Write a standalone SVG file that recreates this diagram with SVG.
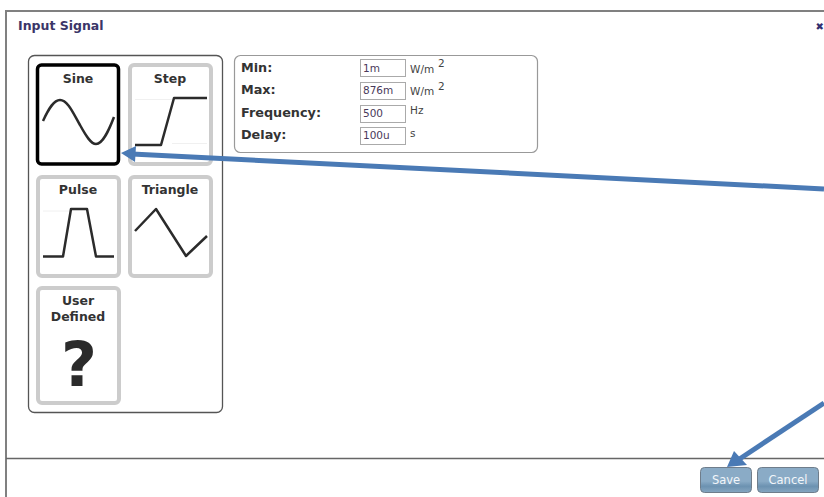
<svg xmlns="http://www.w3.org/2000/svg" width="824" height="497" viewBox="0 0 824 497">
<style>
text{font-family:"DejaVu Sans",Verdana,sans-serif}
.t{font-size:12.500px;font-weight:bold;fill:#333;text-anchor:middle}
.l{font-size:12.800px;font-weight:bold;fill:#333}
.u{font-size:10.500px;fill:#444}
.v{font-size:10.500px;fill:#4a3a5a}
.card{fill:#fff;stroke:#ccc;stroke-width:4}
.w{fill:none;stroke:#2b2b2b;stroke-width:2.500;stroke-linejoin:round}
.g{stroke:#f0f0f0;stroke-width:1}
.in{fill:#fff;stroke:#aaa;stroke-width:1}
.b{stroke:#6f7d8b;stroke-width:1;fill:url(#btn)}
.bt{font-size:11.500px;fill:#f2f6fa;text-anchor:middle}
.a{stroke:#4a7ab5;stroke-width:5;fill:none}
</style>
<defs>
<linearGradient id="btn" x1="0" y1="0" x2="0" y2="1">
<stop offset="0" stop-color="#8aabc6"/><stop offset=".55" stop-color="#8aabc6"/><stop offset=".75" stop-color="#6c92b1"/><stop offset="1" stop-color="#86a6c0"/>
</linearGradient>
</defs>
<rect width="824" height="497" fill="#fff"/>
<g id="dialog">
<path d="M6 497V11H824" fill="none" stroke="#808080" stroke-width="2"/>
<path d="M6 458.500H824" stroke="#666" stroke-width="1.500"/>
<text x="18" y="30" font-size="12.500" font-weight="bold" fill="#3b3568">Input Signal</text>
<text x="815.500" y="30" font-size="10" font-weight="bold" fill="#332e70">✖</text>
</g>
<g id="panel"><rect x="28.500" y="55.500" width="194" height="357" rx="6" fill="#fff" stroke="#555" stroke-width="1.300"/></g>
<g id="sine">
<rect x="37.500" y="65" width="81" height="99" rx="4" fill="#fff" stroke="#000" stroke-width="3.500"/>
<text class="t" x="78" y="83">Sine</text>
<path class="w" d="M43 121C49 108 54 100 60 100C68 100 74 115 80 125C86 136 91 144 96 144C103 144 109 130 114 117"/>
</g>
<g id="step">
<rect class="card" x="130" y="65" width="81" height="99" rx="4"/>
<text class="t" x="170" y="83">Step</text>
<path class="g" d="M135 99.500H172M172 143.500H207"/>
<path class="w" d="M135 145H161L174 98H207"/>
</g>
<g id="pulse">
<rect class="card" x="38" y="177" width="81" height="99" rx="4"/>
<text class="t" x="78" y="194">Pulse</text>
<path class="g" d="M43 211H70"/>
<path class="w" d="M43 256.500H63L71 209H87L96 256.500H114"/>
</g>
<g id="triangle">
<rect class="card" x="130" y="177" width="81" height="99" rx="4"/>
<text class="t" x="170" y="194">Triangle</text>
<path class="w" d="M135 231L156 209L186 256L207 236"/>
</g>
<g id="user-defined">
<rect class="card" x="38" y="288" width="81" height="115" rx="4"/>
<text class="t" x="78" y="305">User</text>
<text class="t" x="78" y="321">Defined</text>
<text x="79" y="386" font-size="62" font-weight="bold" fill="#2b2b2b" text-anchor="middle">?</text>
</g>
<g id="params">
<rect x="234.500" y="55.500" width="303" height="97" rx="6" fill="#fff" stroke="#999" stroke-width="1.200"/>
<text class="l" x="241" y="72">Min:</text>
<text class="l" x="241" y="94">Max:</text>
<text class="l" x="241" y="117">Frequency:</text>
<text class="l" x="241" y="139">Delay:</text>
<rect class="in" x="360.500" y="59.500" width="45" height="17"/>
<rect class="in" x="360.500" y="82.500" width="45" height="17"/>
<rect class="in" x="360.500" y="105.500" width="45" height="17"/>
<rect class="in" x="360.500" y="127.500" width="45" height="17"/>
<text class="v" x="363" y="72">1m</text>
<text class="v" x="363" y="94">876m</text>
<text class="v" x="363" y="117">500</text>
<text class="v" x="363" y="139">100u</text>
<text class="u" x="410" y="73">W/m</text>
<text class="u" x="438" y="67" font-size="12">2</text>
<text class="u" x="410" y="95">W/m</text>
<text class="u" x="438" y="90" font-size="12">2</text>
<text class="u" x="410" y="114">Hz</text>
<text class="u" x="410" y="137">s</text>
</g>
<g id="save"><rect class="b" x="700.500" y="467.500" width="51" height="25" rx="4"/><text class="bt" x="726" y="484">Save</text></g>
<g id="cancel"><rect class="b" x="757.500" y="467.500" width="61" height="25" rx="4"/><text class="bt" x="788" y="484">Cancel</text></g>
<g id="connectors">
<path class="a" d="M824 189L132 154"/>
<path d="M121 153L136 146L135 162Z" fill="#4a7ab5"/>
<path class="a" d="M824 403L738 460"/>
<path d="M727 467L734 451L747 465Z" fill="#4a7ab5"/>
</g>
</svg>
